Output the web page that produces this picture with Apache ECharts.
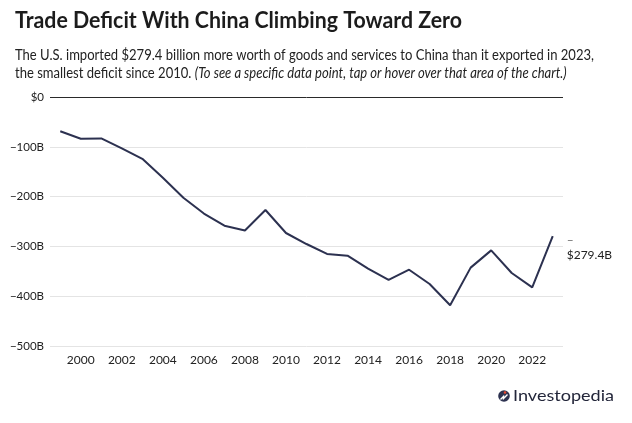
<!DOCTYPE html>
<html>
<head>
<meta charset="utf-8">
<script src="https://cdn.jsdelivr.net/npm/echarts@6/dist/echarts.min.js"></script>
<style>
  html, body { margin: 0; background: #fff; }
  #chart { width: 632px; height: 423px; }
</style>
</head>
<body>
<div id="chart"></div>
<script>
// data
const years = ['1999', '2000', '2001', '2002', '2003', '2004', '2005', '2006', '2007', '2008',
  '2009', '2010', '2011', '2012', '2013', '2014', '2015', '2016', '2017', '2018',
  '2019', '2020', '2021', '2022', '2023']
const deficit = [-68.7, -83.8, -83.1, -103.1, -124.1, -162.3, -202.3, -234.1, -258.5, -268.0,
  -226.9, -273.1, -295.2, -315.1, -318.7, -344.8, -367.3, -346.8, -375.4, -418.2,
  -342.6, -308.0, -353.5, -382.3, -279.4]
const xTickYears = ['2000', '2002', '2004', '2006', '2008', '2010', '2012', '2014', '2016', '2018', '2020', '2022']

const titleText = 'Trade Deficit With China Climbing Toward Zero'
const subLine1 = 'The U.S. imported $279.4 billion more worth of goods and services to China than it exported in 2023,'
const subLine2 = 'the smallest deficit since 2010. '
const subNote = '(To see a specific data point, tap or hover over that area of the chart.)'
const brand = 'Investopedia'

const FONT = 'Lato, "Open Sans", sans-serif'
const INK = '#2c3150'

// squeeze text horizontally so it spans the same width as in the reference
const ctx = document.createElement('canvas').getContext('2d')
const fitScale = (text, font, width) => {
  ctx.font = font
  return width / ctx.measureText(text).width
}
const titleFont = 'bold 22px ' + FONT
const subFont = '14.5px ' + FONT
const brandFont = '16px ' + FONT
const titleScale = fitScale(titleText, titleFont, 447)
const subScale = fitScale(subLine1, subFont, 579)
const brandScale = fitScale(brand, brandFont, 101)

const chart = echarts.init(document.getElementById('chart'), null, { renderer: 'canvas' })

chart.setOption({
  backgroundColor: '#fff',
  animation: false,
  textStyle: { fontFamily: FONT },
  grid: { left: 50, right: 69, top: 97, bottom: 77 },
  xAxis: {
    type: 'category',
    data: years,
    boundaryGap: true,
    axisLine: { show: false },
    axisTick: { show: false },
    axisLabel: {
      interval: (i, v) => xTickYears.includes(v),
      color: '#222',
      fontSize: 12,
      margin: 8,
    },
  },
  yAxis: {
    type: 'value',
    min: -500,
    max: 0,
    interval: 100,
    axisLine: { show: false },
    axisTick: { show: false },
    axisLabel: {
      color: '#222',
      fontSize: 11.5,
      margin: 6,
      formatter: (v) => (v === 0 ? '$0' : '\u2212' + Math.abs(v) + 'B'),
    },
    splitLine: {
      lineStyle: {
        // last line is the zero line, drawn dark
        color: ['#e4e4e4', '#e4e4e4', '#e4e4e4', '#e4e4e4', '#e4e4e4', '#2a2a2a'],
        width: 1,
      },
    },
  },
  series: [
    {
      name: 'Trade balance',
      type: 'line',
      data: deficit,
      symbol: 'none',
      lineStyle: { color: INK, width: 2 },
      itemStyle: { color: INK },
      endLabel: {
        show: true,
        offset: [6, 11],
        formatter: (p) => '{d|\u2013}\n{v|$' + Math.abs(p.value) + 'B}',
        rich: {
          d: { color: '#666', fontSize: 12, lineHeight: 15 },
          v: { color: '#222', fontSize: 12, lineHeight: 15 },
        },
      },
    },
  ],
  graphic: [
    {
      type: 'text',
      x: 15,
      y: 21,
      scaleX: titleScale,
      style: { text: titleText, font: titleFont, fill: '#1c1c1c', verticalAlign: 'middle' },
    },
    {
      type: 'text',
      x: 15,
      y: 55,
      scaleX: subScale,
      style: { text: subLine1, font: subFont, fill: '#222', verticalAlign: 'middle' },
    },
    {
      type: 'text',
      x: 15,
      y: 73,
      scaleX: subScale,
      style: {
        text: '{r|' + subLine2 + '}{i|' + subNote + '}',
        verticalAlign: 'middle',
        rich: {
          r: { font: subFont, fill: '#222' },
          i: { font: 'italic ' + subFont, fill: '#222' },
        },
      },
    },
    // Investopedia logo
    { type: 'circle', shape: { cx: 504, cy: 396, r: 5.8 }, style: { fill: INK } },
    {
      type: 'polyline',
      shape: { points: [[500.5, 399.5], [503.5, 396.5], [503.5, 398.5], [507.5, 394.5]] },
      style: { stroke: '#fff', lineWidth: 1.4, fill: null },
    },
    { type: 'circle', shape: { cx: 505, cy: 392.5, r: 1.3 }, style: { fill: '#e8472e' } },
    {
      type: 'text',
      x: 513,
      y: 396,
      scaleX: brandScale,
      style: { text: brand, font: brandFont, fill: '#23263a', verticalAlign: 'middle' },
    },
  ],
})
</script>
</body>
</html>
